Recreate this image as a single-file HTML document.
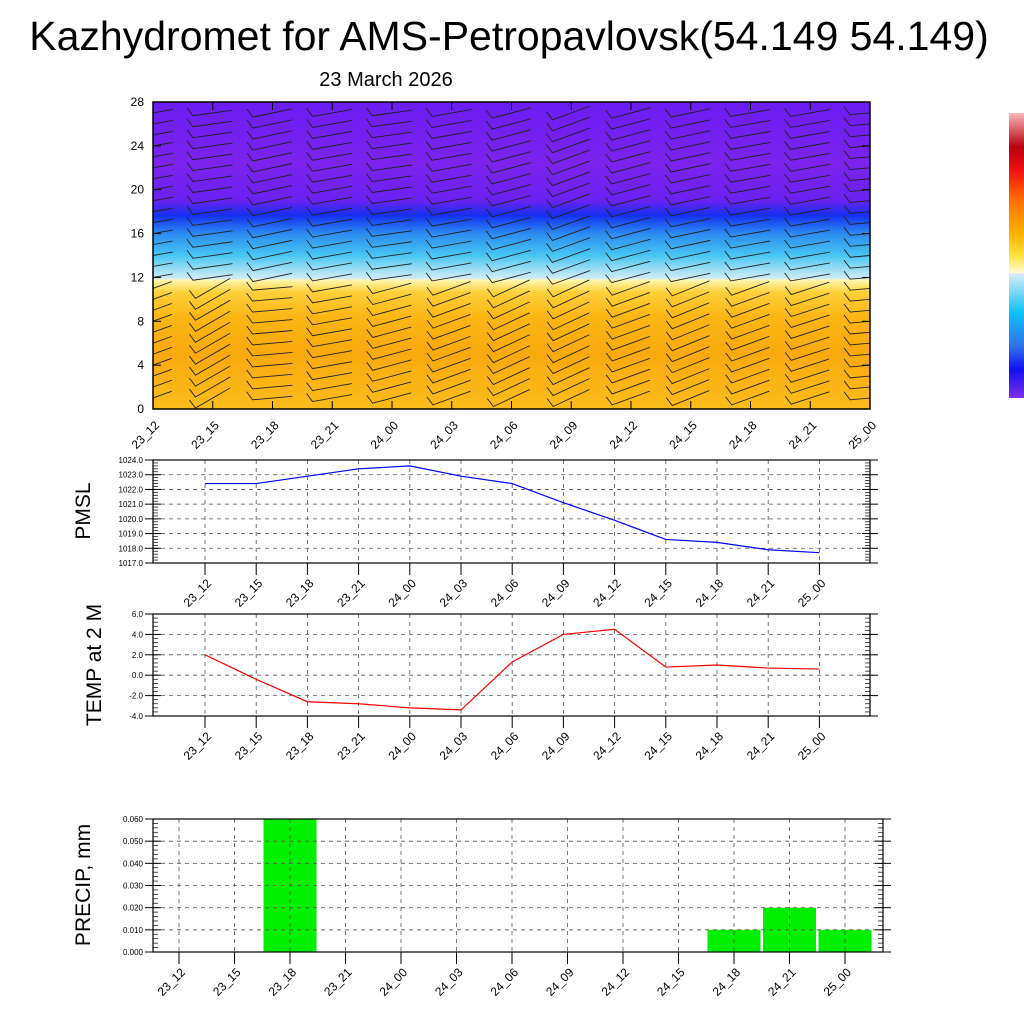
<!DOCTYPE html>
<html><head><meta charset="utf-8"><style>
html,body{margin:0;padding:0;background:#fff;}
svg{display:block;font-family:"Liberation Sans",sans-serif;}
</style></head><body>
<svg id="root" width="1024" height="1024" viewBox="0 0 1024 1024" xmlns="http://www.w3.org/2000/svg">
<defs>
<linearGradient id="cgrad" x1="0" y1="1" x2="0" y2="0">
<stop offset="0" stop-color="#fbbd1c"/>
<stop offset="0.18" stop-color="#f9a90e"/>
<stop offset="0.3" stop-color="#fbb614"/>
<stop offset="0.38" stop-color="#fdd03a"/>
<stop offset="0.42" stop-color="#fff6b0"/>
<stop offset="0.425" stop-color="#d2ecf6"/>
<stop offset="0.5" stop-color="#48c6f2"/>
<stop offset="0.57" stop-color="#2c8cf0"/>
<stop offset="0.63" stop-color="#1630f0"/>
<stop offset="0.68" stop-color="#6a22f0"/>
<stop offset="0.8" stop-color="#7c22ec"/>
<stop offset="1" stop-color="#6a1ef2"/>
</linearGradient>
<linearGradient id="cbar" x1="0" y1="0" x2="0" y2="1">
<stop offset="0" stop-color="#f8b8b8"/>
<stop offset="0.12" stop-color="#b80010"/>
<stop offset="0.2" stop-color="#f01010"/>
<stop offset="0.3" stop-color="#ff6a00"/>
<stop offset="0.42" stop-color="#ffb000"/>
<stop offset="0.5" stop-color="#ffe040"/>
<stop offset="0.56" stop-color="#fffcd0"/>
<stop offset="0.565" stop-color="#d8ecf6"/>
<stop offset="0.7" stop-color="#10c0f8"/>
<stop offset="0.82" stop-color="#3070e8"/>
<stop offset="0.9" stop-color="#1010f0"/>
<stop offset="1" stop-color="#8030e8"/>
</linearGradient>
<clipPath id="topclip"><rect x="153" y="102" width="717" height="307"/></clipPath>
</defs>
<text x="509" y="50" font-size="41" text-anchor="middle">Kazhydromet for AMS-Petropavlovsk(54.149 54.149)</text>
<text x="386" y="86" font-size="20" text-anchor="middle">23 March 2026</text>
<rect x="1009" y="113" width="15" height="285" fill="url(#cbar)"/>
<g id="top"></g>
<g id="p1"></g>
<g id="p2"></g>
<g id="p3"></g>
</svg>
<script>
const times = ["23_12","23_15","23_18","23_21","24_00","24_03","24_06","24_09","24_12","24_15","24_18","24_21","25_00"];
const pmsl = [1022.4,1022.4,1022.9,1023.4,1023.6,1022.9,1022.4,1021.1,1019.9,1018.6,1018.4,1017.9,1017.7];
const temp = [2.0,-0.4,-2.6,-2.8,-3.2,-3.4,1.3,4.0,4.5,0.8,1.0,0.7,0.6];
const precip = [0,0,0.06,0,0,0,0,0,0,0,0.01,0.02,0.01];
const heightTicks = [0,4,8,12,16,20,24,28];
const pmslTicks = [1017,1018,1019,1020,1021,1022,1023,1024];
const tempTicks = [-4,-2,0,2,4,6];
const precipTicks = [0,0.01,0.02,0.03,0.04,0.05,0.06];
const windLowDir = [20,30,5,10,15,20,25,25,20,22,20,18,5];
const windHighDir = [10,8,12,10,8,10,15,20,15,12,10,10,5];

const NS="http://www.w3.org/2000/svg";
function mk(parent,tag,attrs){const e=document.createElementNS(NS,tag);for(const k in attrs)e.setAttribute(k,attrs[k]);parent.appendChild(e);return e;}

// ---------- top panel ----------
(function(){
const g=document.getElementById('top');
const L=153,R=870,T=102,B=409;
const xs=i=>L+(R-L)*i/(times.length-1);
const ys=v=>B-(B-T)*v/28;
const bg=mk(g,'rect',{x:L,y:T,width:R-L,height:B-T,fill:'url(#cgrad)'});


const bars=mk(g,'g',{stroke:'#222','stroke-width':'0.9',fill:'none','clip-path':'url(#topclip)'});


for(let i=0;i<times.length;i++){
  for(let lv=1;lv<28;lv++){
    const a=(lv<12?windLowDir[i]:windHighDir[i])*Math.PI/180;
    const cx=xs(i), cy=ys(lv);
    const dx=Math.cos(a)*20, dy=Math.sin(a)*20;
    const p=mk(bars,'path',{d:`M${cx+dx} ${cy-dy} L${cx-dx} ${cy+dy} l-6 -8`});
    
    
  }
}
const fr=mk(g,'rect',{x:L,y:T,width:R-L,height:B-T,fill:'none',stroke:'#000','stroke-width':'1.5'});


heightTicks.forEach(v=>{
  const y=ys(v);
  mk(g,'line',{x1:L,x2:L+8,y1:y,y2:y,stroke:'#000'});
  mk(g,'line',{x1:R,x2:R-8,y1:y,y2:y,stroke:'#000'});
  const t=mk(g,'text',{x:L-9,y:y+4,'font-size':12,'text-anchor':'end'});t.textContent=v;
  
  
});
times.forEach((s,i)=>{
  const x=xs(i);
  mk(g,'line',{x1:x,x2:x,y1:B,y2:B-8,stroke:'#000'});
  mk(g,'line',{x1:x,x2:x,y1:T,y2:T+8,stroke:'#000'});
  const t=mk(g,'text',{x:0,y:0,'font-size':12,'text-anchor':'end',transform:`translate(${x+7},${B+17}) rotate(-45)`});t.textContent=s;
  
  
});
})();

// ---------- line panels ----------
function panel(id,L,R,T,B,ticks,fmt,xfirst,xstep,label,labelY,labelX){
  const g=document.getElementById(id);
  const vmin=ticks[0],vmax=ticks[ticks.length-1];
  const ys=v=>B-(B-T)*(v-vmin)/(vmax-vmin);
  const xs=i=>xfirst+xstep*i;
  ticks.forEach(v=>{
    const y=ys(v);
    const gl=mk(g,'line',{x1:L,x2:R,y1:y,y2:y,stroke:'#555','stroke-dasharray':'4,4','stroke-width':'0.8'});
    
    
    mk(g,'line',{x1:L-8,x2:L+8,y1:y,y2:y,stroke:'#000'});
    mk(g,'line',{x1:R-8,x2:R+8,y1:y,y2:y,stroke:'#000'});
    const t=mk(g,'text',{x:L-10,y:y+3,'font-size':8,'text-anchor':'end'});t.textContent=fmt(v);
    
    
  });
  const step=(ys(ticks[0])-ys(ticks[1]))/5;
  for(let y=B;y>=T-0.1;y-=step){
    mk(g,'line',{x1:L,x2:L+5,y1:y,y2:y,stroke:'#000','stroke-width':'0.7'});
    mk(g,'line',{x1:R,x2:R-5,y1:y,y2:y,stroke:'#000','stroke-width':'0.7'});
  }
  times.forEach((s,i)=>{
    const x=xs(i);
    const gl=mk(g,'line',{x1:x,x2:x,y1:T,y2:B,stroke:'#555','stroke-dasharray':'4,4','stroke-width':'0.8'});
    
    
    mk(g,'line',{x1:x,x2:x,y1:B,y2:B+12,stroke:'#000'});
    const t=mk(g,'text',{x:0,y:0,'font-size':12,'text-anchor':'end',transform:`translate(${x+7},${B+21}) rotate(-45)`});t.textContent=s;
    
    
  });
  const fr=mk(g,'rect',{x:L,y:T,width:R-L,height:B-T,fill:'none',stroke:'#000','stroke-width':'1.2'});
  
  
  const lt=mk(g,'text',{x:0,y:0,'font-size':21,'text-anchor':'middle',transform:`translate(${labelX},${labelY}) rotate(-90)`});lt.textContent=label;
  
  
  return {g,xs,ys};
}

(function(){
  const p=panel('p1',153,870,460,563,pmslTicks,v=>v.toFixed(1),205,51.2,'PMSL',511,90);
  const pl=mk(p.g,'polyline',{points:pmsl.map((v,i)=>p.xs(i)+','+p.ys(v)).join(' '),fill:'none',stroke:'#0000ff','stroke-width':'1.2'});
  
  
})();
(function(){
  const p=panel('p2',153,870,614,716,tempTicks,v=>v.toFixed(1),205,51.2,'TEMP at 2 M',665,101);
  const pl=mk(p.g,'polyline',{points:temp.map((v,i)=>p.xs(i)+','+p.ys(v)).join(' '),fill:'none',stroke:'#ff0000','stroke-width':'1.2'});
  
  
})();
(function(){
  const g=document.getElementById('p3');
  const L=153,R=883,T=819,B=952;
  const ys=v=>B-(B-T)*v/0.06;
  const xs=i=>179+55.5*i;
  precip.forEach((v,i)=>{
    if(v<=0)return;
    const r=mk(g,'rect',{x:xs(i)-26.5,y:ys(v),width:53,height:B-ys(v),fill:'#00f000'});
    
    
  });
  panel('p3',L,R,T,B,precipTicks,v=>v.toFixed(3),179,55.5,'PRECIP, mm',885,90);
})();
</script>
</body></html>
